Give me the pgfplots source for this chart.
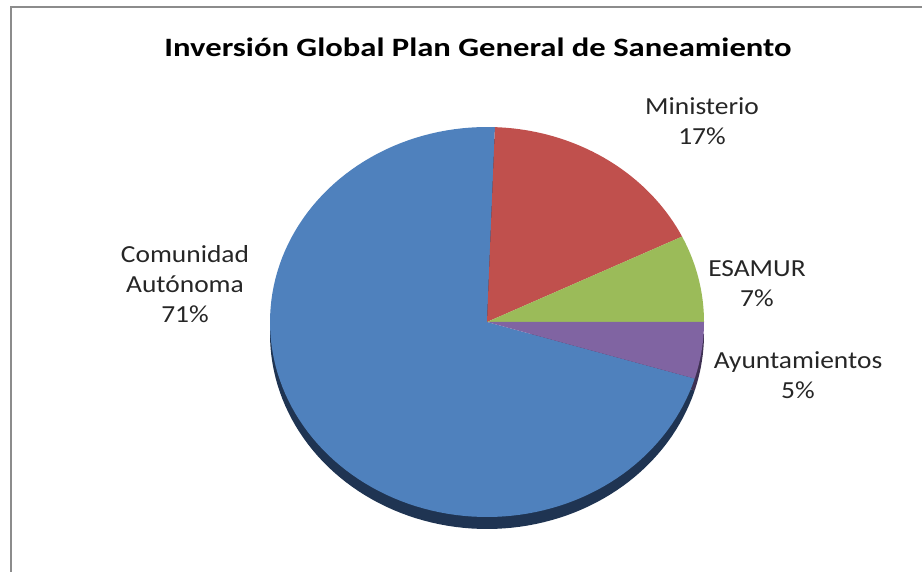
\documentclass[border=0pt]{standalone}
\usepackage{fontspec}
\setmainfont{Carlito}[FakeStretch=1.12]
\newfontfamily\titlefont{Carlito Bold}[FakeStretch=1.12]
\usepackage{pgfplots}
\usepackage{pgfplotstable}
\pgfplotsset{compat=1.18}
\definecolor{cBlue}{HTML}{4F81BD}
\definecolor{cRed}{HTML}{C0504D}
\definecolor{cGreen}{HTML}{9BBB59}
\definecolor{cPurple}{HTML}{8064A2}
\definecolor{cBlueSide}{HTML}{1F3452}
\definecolor{cPurpleSide}{HTML}{3E3052}
\definecolor{frameGray}{HTML}{8C8C8C}

\pgfplotstableread{
label value
Ministerio 17.2
ESAMUR 7.2
Ayuntamientos 4.7
Comunidad 70.9
}\piedata

\begin{document}%
\begin{tikzpicture}[x=1pt,y=1pt]
\pgfplotstablegetelem{0}{value}\of\piedata \let\vA\pgfplotsretval
\pgfplotstablegetelem{1}{value}\of\piedata \let\vB\pgfplotsretval
\pgfplotstablegetelem{2}{value}\of\piedata \let\vC\pgfplotsretval
\pgfplotstablegetelem{3}{value}\of\piedata \let\vD\pgfplotsretval
\pgfmathsetmacro{\aA}{87.9}
\pgfmathsetmacro{\aB}{\aA-3.6*\vA}
\pgfmathsetmacro{\aC}{\aB-3.6*\vB}
\pgfmathsetmacro{\aD}{\aC-3.6*\vC}
\pgfmathsetmacro{\aE}{\aD-3.6*\vD}
\begin{axis}[at={(0,0)}, anchor=south west, scale only axis,
  width=922pt, height=571pt, xmin=0, xmax=922, ymin=0, ymax=571,
  axis lines=none, clip=false]
% side (depth)
\addplot[fill=cBlueSide, draw=none, domain=\aE:\aD, samples=120, variable=\t]
  ({487+217*cos(\t)},{237+195*sin(\t)}) -- (487,237) -- cycle;
\addplot[fill=cPurpleSide, draw=none, domain=\aD:\aC, samples=30, variable=\t]
  ({487+217*cos(\t)},{237+195*sin(\t)}) -- (487,237) -- cycle;
% top faces
\addplot[fill=cBlue, draw=none, domain=\aE:\aD, samples=120, variable=\t]
  ({487+217*cos(\t)},{249+195*sin(\t)}) -- (487,249) -- cycle;
\addplot[fill=cRed, draw=none, domain=\aB:\aA, samples=40, variable=\t]
  ({487+217*cos(\t)},{249+195*sin(\t)}) -- (487,249) -- cycle;
\addplot[fill=cGreen, draw=none, domain=\aC:\aB, samples=30, variable=\t]
  ({487+217*cos(\t)},{249+195*sin(\t)}) -- (487,249) -- cycle;
\addplot[fill=cPurple, draw=none, domain=\aD:\aC, samples=30, variable=\t]
  ({487+217*cos(\t)},{249+195*sin(\t)}) -- (487,249) -- cycle;
\end{axis}
\draw[frameGray, line width=2pt] (11,-5) -- (11,564) -- (930,564);
\node[font=\fontsize{26.5}{32}\titlefont] at (478,524) {\scalebox{1.10}[1]{Inversión Global Plan General de Saneamiento}};
\begin{scope}[every node/.style={align=center, font=\fontsize{24.5}{30}\selectfont, text=black!85}]
\node at (702,450) {Ministerio\\17\%};
\node at (185,287) {Comunidad\\Autónoma\\71\%};
\node at (757,287) {ESAMUR\\7\%};
\node at (798,196) {Ayuntamientos\\5\%};
\end{scope}
\pgfresetboundingbox
\path[use as bounding box] (0,0) rectangle (922,571);
\end{tikzpicture}%
\end{document}
